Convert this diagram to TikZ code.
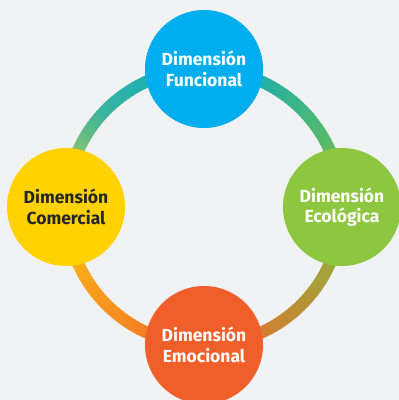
\documentclass[tikz,border=0pt]{standalone}
\usepackage{fontspec}
\setsansfont{Fira Sans}
\usetikzlibrary{positioning}

\definecolor{bgcol}{HTML}{F0F2F4}
\definecolor{funccol}{HTML}{00AEEF}
\definecolor{ecocol}{HTML}{8DC63F}
\definecolor{emocol}{HTML}{F05F2A}
\definecolor{comcol}{HTML}{FFD200}
\definecolor{ringtop}{HTML}{00A8CC}
\definecolor{ringright}{HTML}{7CC242}
\definecolor{ringmid}{HTML}{3AB49E}
\definecolor{ringleft}{HTML}{DCD63A}
\definecolor{ringleftlow}{HTML}{FDC313}
\definecolor{ringbottom}{HTML}{F0652A}

\tikzset{
    dimnode/.style={circle, minimum size=118pt, inner sep=0pt, align=center,
        font=\sffamily\bfseries\fontsize{17.5}{20.5}\selectfont, text=white},
    ringseg/.style={line width=12pt}
}

\begin{document}
\begin{tikzpicture}[x=1pt, y=1pt]
        \useasboundingbox[fill=bgcol] (-204,-193) rectangle (195,207);
        \coordinate (ctr) at (0,0);
        % ring, drawn in small pieces
        \foreach \a in {0,2,...,88}{
            \pgfmathtruncatemacro\p{100*\a/90}
            \draw[ringseg, ringtop!\p!ringright] (ctr) ++(\a:138) arc[start angle=\a, end angle=\a+2.6, radius=138];
        }
        \foreach \a in {90,92,...,134}{
            \pgfmathtruncatemacro\p{100*(\a-90)/45}
            \draw[ringseg, ringmid!\p!ringtop] (ctr) ++(\a:138) arc[start angle=\a, end angle=\a+2.6, radius=138];
        }
        \foreach \a in {136,138,...,178}{
            \pgfmathtruncatemacro\p{100*(\a-136)/44}
            \draw[ringseg, ringleft!\p!ringmid] (ctr) ++(\a:138) arc[start angle=\a, end angle=\a+2.6, radius=138];
        }
        \foreach \a in {180,182,...,268}{
            \pgfmathtruncatemacro\p{100*(\a-180)/90}
            \draw[ringseg, ringbottom!\p!ringleftlow] (ctr) ++(\a:138) arc[start angle=\a, end angle=\a+2.6, radius=138];
        }
        \foreach \a in {270,272,...,358}{
            \pgfmathtruncatemacro\p{100*(\a-270)/90}
            \draw[ringseg, ringright!\p!ringbottom] (ctr) ++(\a:138) arc[start angle=\a, end angle=\a+2.6, radius=138];
        }
        % the four dimensions
        \node[dimnode, fill=funccol] (func) at (0,138) {Dimensión\\Funcional};
        \node[dimnode, fill=ecocol] (eco) at (138,0) {Dimensión\\Ecológica};
        \node[dimnode, fill=emocol] (emo) at (0,-138) {Dimensión\\Emocional};
        \node[dimnode, fill=comcol, text=black!85] (com) at (-138,0) {Dimensión\\Comercial};
\end{tikzpicture}
\end{document}
